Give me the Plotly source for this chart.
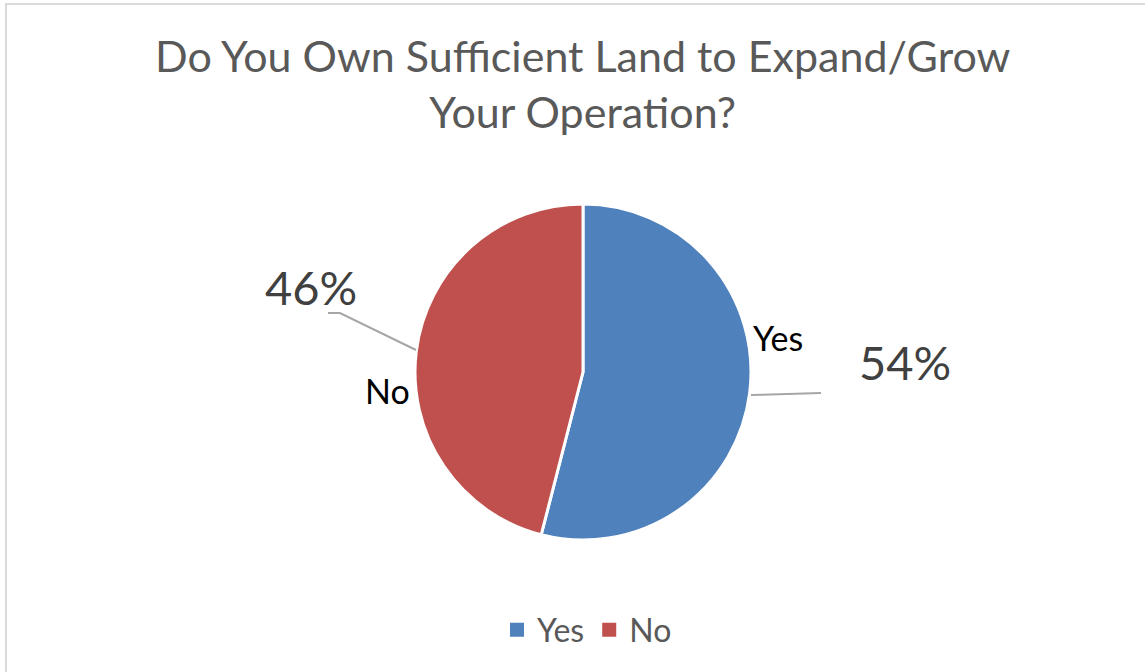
import plotly.graph_objects as go

# Survey answers
categories = ["Yes", "No"]
shares = [54, 46]
colors = ["#4F81BD", "#C0504D"]

W, H = 1145, 672
FONT = "Lato"

# Pie geometry in pixels
cx, cy, r = 583, 372, 168


def px(x):
    return x / W


def py(y):
    return 1 - y / H


fig = go.Figure(
    go.Pie(
        labels=categories,
        values=shares,
        sort=False,
        direction="clockwise",
        rotation=0,
        marker=dict(colors=colors, line=dict(color="white", width=3)),
        textinfo="none",
        hoverinfo="label+percent",
        showlegend=False,
        domain=dict(x=[px(cx - r), px(cx + r)], y=[py(cy + r), py(cy - r)]),
    )
)

# Legend entries with square swatches
for cat, col in zip(categories, colors):
    fig.add_trace(go.Scatter(
        x=[None], y=[None], mode="markers", name=cat,
        marker=dict(symbol="square", size=14, color=col),
        hoverinfo="skip",
    ))

total = sum(shares)
annotations = []
shapes = []

# Category names and percentage labels, placed around each slice
name_pos = {"Yes": (778, 337), "No": (387, 390)}
pct_pos = {"Yes": (905, 362), "No": (311, 287)}
for cat, val in zip(categories, shares):
    nx, ny = name_pos[cat]
    annotations.append(dict(
        x=px(nx), y=py(ny), xref="paper", yref="paper", text=cat,
        showarrow=False, font=dict(family=FONT, size=34, color="#000000"),
        xanchor="center", yanchor="middle",
    ))
    tx, ty = pct_pos[cat]
    annotations.append(dict(
        x=px(tx), y=py(ty), xref="paper", yref="paper",
        text=f"{round(val / total * 100)}%",
        showarrow=False, font=dict(family=FONT, size=47, color="#404040"),
        xanchor="center", yanchor="middle",
    ))

# Leader lines
leader = "#A6A6A6"
shapes.append(dict(type="path", xref="paper", yref="paper",
                   path=f"M {px(328)},{py(313)} L {px(340)},{py(313)} L {px(416)},{py(350)}",
                   line=dict(color=leader, width=2)))
shapes.append(dict(type="line", xref="paper", yref="paper",
                   x0=px(751), y0=py(395), x1=px(821), y1=py(393),
                   line=dict(color=leader, width=2)))

# Chart frame
shapes.append(dict(type="rect", xref="paper", yref="paper",
                   x0=px(6), y0=py(H + 10), x1=px(W + 10), y1=py(4),
                   line=dict(color="#D9D9D9", width=2), fillcolor="rgba(0,0,0,0)"))

# Title
annotations.append(dict(
    x=px(582), y=py(83), xref="paper", yref="paper",
    text="Do You Own Sufficient Land to Expand/Grow<br>Your Operation?",
    showarrow=False, font=dict(family=FONT, size=43, color="#595959"),
    xanchor="center", yanchor="middle", align="center",
))

fig.update_layout(
    width=W, height=H,
    margin=dict(l=0, r=0, t=0, b=0),
    paper_bgcolor="white",
    plot_bgcolor="white",
    xaxis=dict(visible=False),
    yaxis=dict(visible=False),
    showlegend=True,
    legend=dict(
        orientation="h", x=px(587), y=py(630), xanchor="center", yanchor="middle",
        font=dict(family=FONT, size=32, color="#595959"),
        itemwidth=30, tracegroupgap=0,
    ),
    annotations=annotations,
    shapes=shapes,
)

fig.write_html("out.html")
